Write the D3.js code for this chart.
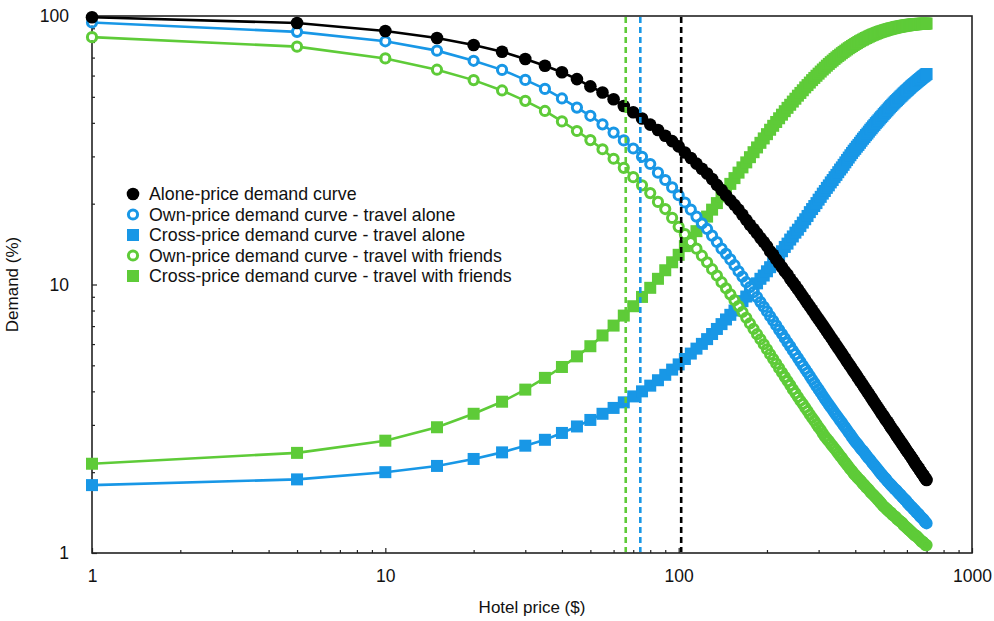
<!DOCTYPE html>
<html>
<head>
<meta charset="utf-8">
<script src="https://cdn.jsdelivr.net/npm/d3@7"></script>
<style>
  body { margin: 0; background: #fff; }
  text { font-family: "Liberation Sans", Arial, Helvetica, sans-serif; fill: #111; }
</style>
</head>
<body>
<svg id="chart" width="994" height="621"></svg>
<script>
// hotel price grid ($)
var prices = [1, 5, 10, 15, 20, 25, 30, 35, 40, 45, 50, 55, 60, 65, 70, 75, 80, 85, 90, 95, 100,
  105, 110, 115, 120, 125, 130, 135, 140, 145, 150, 155, 160, 165, 170, 175, 180, 185, 190, 195,
  200, 205, 210, 215, 220, 225, 230, 235, 240, 245, 250, 255, 260, 265, 270, 275, 280, 285, 290, 295,
  300, 305, 310, 315, 320, 325, 330, 335, 340, 345, 350, 355, 360, 365, 370, 375, 380, 385, 390, 395,
  400, 405, 410, 415, 420, 425, 430, 435, 440, 445, 450, 455, 460, 465, 470, 475, 480, 485, 490, 495,
  500, 505, 510, 515, 520, 525, 530, 535, 540, 545, 550, 555, 560, 565, 570, 575, 580, 585, 590, 595,
  600, 605, 610, 615, 620, 625, 630, 635, 640, 645, 650, 655, 660, 665, 670, 675, 680, 685, 690, 695, 700];

// demand (%), one value per price
var aloneDemand = [98.9, 94.2, 87.9, 82.8, 78.0, 73.6, 69.2, 65.3, 61.7, 58.2, 54.7, 51.9, 49.0, 46.2, 43.8, 41.5, 39.4, 37.6, 35.8, 34.2, 32.7,
  31.0, 29.6, 28.2, 27.0, 25.9, 24.7, 23.5, 22.5, 21.5, 20.6, 19.8, 19.0, 18.2, 17.4, 16.7, 16.1, 15.5, 14.9, 14.4,
  13.9, 13.3, 12.9, 12.4, 12.0, 11.6, 11.2, 10.9, 10.5, 10.2, 9.90, 9.60, 9.31, 9.03, 8.77, 8.52, 8.28, 8.05, 7.83, 7.62,
  7.42, 7.23, 7.05, 6.87, 6.70, 6.53, 6.37, 6.22, 6.07, 5.93, 5.79, 5.66, 5.53, 5.41, 5.29, 5.17, 5.06, 4.96, 4.85, 4.75,
  4.66, 4.56, 4.47, 4.38, 4.30, 4.22, 4.13, 4.06, 3.98, 3.91, 3.84, 3.77, 3.70, 3.63, 3.57, 3.51, 3.45, 3.39, 3.33, 3.28,
  3.23, 3.17, 3.12, 3.08, 3.03, 2.98, 2.93, 2.89, 2.85, 2.81, 2.76, 2.72, 2.68, 2.65, 2.61, 2.57, 2.54, 2.50, 2.47, 2.43,
  2.40, 2.37, 2.34, 2.31, 2.28, 2.25, 2.22, 2.19, 2.16, 2.13, 2.11, 2.08, 2.06, 2.03, 2.01, 1.98, 1.96, 1.94, 1.91, 1.89, 1.87];

var ownAlone = [94.6, 87.3, 80.5, 74.3, 68.1, 63.0, 57.8, 53.5, 49.3, 45.6, 42.5, 39.5, 36.8, 34.4, 32.1, 29.9, 28.1, 26.1, 24.5, 23.0, 21.5,
  20.2, 19.0, 17.9, 16.9, 16.1, 15.2, 14.4, 13.6, 13.0, 12.4, 11.8, 11.2, 10.7, 10.2, 9.78, 9.36, 8.97, 8.60, 8.26,
  7.94, 7.62, 7.33, 7.05, 6.78, 6.54, 6.31, 6.08, 5.88, 5.68, 5.50, 5.32, 5.15, 4.99, 4.84, 4.70, 4.56, 4.43, 4.30, 4.18,
  4.07, 3.96, 3.85, 3.75, 3.66, 3.57, 3.49, 3.41, 3.33, 3.26, 3.19, 3.12, 3.06, 2.99, 2.93, 2.87, 2.81, 2.76, 2.70, 2.65,
  2.60, 2.56, 2.52, 2.47, 2.43, 2.40, 2.36, 2.32, 2.28, 2.25, 2.22, 2.18, 2.15, 2.12, 2.09, 2.06, 2.03, 2.00, 1.97, 1.95,
  1.92, 1.90, 1.88, 1.85, 1.83, 1.81, 1.79, 1.77, 1.75, 1.73, 1.72, 1.70, 1.68, 1.66, 1.65, 1.63, 1.61, 1.60, 1.58, 1.57,
  1.55, 1.53, 1.52, 1.50, 1.49, 1.48, 1.46, 1.45, 1.44, 1.42, 1.41, 1.40, 1.39, 1.37, 1.36, 1.35, 1.34, 1.33, 1.31, 1.30, 1.29];

var crossAlone = [1.79, 1.88, 2.00, 2.11, 2.24, 2.37, 2.51, 2.64, 2.80, 2.96, 3.13, 3.30, 3.47, 3.64, 3.83, 4.00, 4.20, 4.40, 4.61, 4.82, 5.04,
  5.28, 5.53, 5.77, 6.01, 6.26, 6.54, 6.83, 7.12, 7.41, 7.71, 8.00, 8.32, 8.67, 9.02, 9.37, 9.73, 10.1, 10.5, 10.8,
  11.2, 11.6, 12.0, 12.5, 12.9, 13.3, 13.8, 14.2, 14.7, 15.1, 15.6, 16.0, 16.5, 17.0, 17.5, 18.0, 18.6, 19.1, 19.6, 20.1,
  20.7, 21.2, 21.8, 22.3, 22.9, 23.4, 24.0, 24.5, 25.1, 25.6, 26.2, 26.8, 27.3, 27.9, 28.5, 29.1, 29.7, 30.3, 30.9, 31.5,
  32.0, 32.6, 33.1, 33.7, 34.3, 34.9, 35.4, 36.0, 36.5, 37.1, 37.7, 38.2, 38.8, 39.3, 39.9, 40.4, 40.9, 41.5, 42.0, 42.5,
  43.1, 43.6, 44.1, 44.6, 45.2, 45.7, 46.2, 46.7, 47.2, 47.7, 48.2, 48.6, 49.1, 49.6, 50.1, 50.5, 51.0, 51.5, 51.9, 52.4,
  52.8, 53.2, 53.7, 54.1, 54.6, 55.0, 55.4, 55.8, 56.2, 56.6, 57.0, 57.4, 57.8, 58.2, 58.6, 59.0, 59.4, 59.7, 60.1, 60.5, 60.8];

var ownFriends = [83.4, 76.9, 69.5, 63.1, 57.7, 52.8, 48.3, 44.3, 40.5, 37.3, 34.5, 31.9, 29.4, 27.2, 25.1, 23.4, 21.9, 20.3, 19.1, 17.7, 16.4,
  15.4, 14.4, 13.6, 12.8, 12.1, 11.4, 10.8, 10.2, 9.68, 9.19, 8.74, 8.31, 7.90, 7.52, 7.16, 6.83, 6.53, 6.25, 5.99,
  5.74, 5.50, 5.28, 5.08, 4.88, 4.70, 4.53, 4.37, 4.22, 4.07, 3.94, 3.81, 3.69, 3.59, 3.48, 3.38, 3.28, 3.19, 3.11, 3.02,
  2.94, 2.87, 2.79, 2.72, 2.66, 2.61, 2.55, 2.50, 2.45, 2.40, 2.35, 2.30, 2.26, 2.21, 2.17, 2.13, 2.09, 2.05, 2.02, 1.98,
  1.95, 1.92, 1.89, 1.87, 1.84, 1.81, 1.79, 1.76, 1.74, 1.72, 1.69, 1.67, 1.65, 1.63, 1.61, 1.59, 1.57, 1.55, 1.53, 1.51,
  1.49, 1.48, 1.46, 1.45, 1.43, 1.42, 1.41, 1.39, 1.38, 1.37, 1.36, 1.34, 1.33, 1.32, 1.31, 1.30, 1.29, 1.27, 1.26, 1.25,
  1.24, 1.23, 1.22, 1.21, 1.20, 1.19, 1.18, 1.17, 1.16, 1.16, 1.15, 1.14, 1.13, 1.12, 1.11, 1.10, 1.10, 1.09, 1.08, 1.07, 1.07];

var crossFriends = [2.15, 2.36, 2.62, 2.94, 3.30, 3.66, 4.06, 4.49, 4.93, 5.40, 5.89, 6.46, 7.03, 7.66, 8.30, 8.99, 9.72, 10.5, 11.3, 12.1, 12.9,
  13.9, 14.9, 15.8, 16.9, 17.9, 19.0, 20.1, 21.3, 22.5, 23.7, 24.9, 26.1, 27.3, 28.5, 29.8, 31.1, 32.4, 33.7, 35.0,
  36.3, 37.7, 39.0, 40.3, 41.6, 42.9, 44.2, 45.5, 46.7, 48.0, 49.2, 50.5, 51.7, 52.9, 54.2, 55.3, 56.5, 57.7, 58.8, 59.9,
  61.0, 62.1, 63.2, 64.2, 65.3, 66.3, 67.3, 68.2, 69.2, 70.1, 71.0, 71.8, 72.7, 73.5, 74.3, 75.1, 75.9, 76.6, 77.3, 78.0,
  78.7, 79.3, 80.0, 80.6, 81.2, 81.7, 82.3, 82.8, 83.3, 83.8, 84.3, 84.8, 85.2, 85.6, 86.0, 86.4, 86.8, 87.2, 87.5, 87.8,
  88.1, 88.4, 88.7, 89.0, 89.3, 89.5, 89.8, 90.0, 90.2, 90.4, 90.7, 90.9, 91.1, 91.2, 91.4, 91.6, 91.7, 91.9, 92.1, 92.2,
  92.3, 92.4, 92.6, 92.7, 92.8, 92.9, 93.0, 93.1, 93.2, 93.2, 93.3, 93.4, 93.4, 93.5, 93.5, 93.5, 93.6, 93.6, 93.6, 93.7, 93.7];

// revenue maximising prices, drawn as dashed verticals
var optimalPrices = [66, 74, 102];
var optimalColors = ["#5ecb38", "#1897e6", "#000"];

var xTickValues = [1, 10, 100, 1000];
var yTickValues = [1, 10, 100];

var BLUE = "#1897e6", GREEN = "#5ecb38";

var series = [
  {name: "Alone-price demand curve", values: aloneDemand, color: "#000", marker: "disc", z: 4},
  {name: "Own-price demand curve - travel alone", values: ownAlone, color: BLUE, marker: "ring", z: 3},
  {name: "Cross-price demand curve - travel alone", values: crossAlone, color: BLUE, marker: "square", z: 0},
  {name: "Own-price demand curve - travel with friends", values: ownFriends, color: GREEN, marker: "ring", z: 2},
  {name: "Cross-price demand curve - travel with friends", values: crossFriends, color: GREEN, marker: "square", z: 1}
];

var chartW = 994, chartH = 621;
var plotLeft = 92, plotRight = 972, plotTop = 16, plotBottom = 553;

var svg = d3.select("#chart");
svg.append("rect").attr("width", chartW).attr("height", chartH).attr("fill", "#fff");

var x = d3.scaleLog().domain([1, 1000]).range([plotLeft, plotRight]);
var y = d3.scaleLog().domain([1, 100]).range([plotBottom, plotTop]);

// minor ticks, pointing inwards
svg.append("g")
  .attr("transform", "translate(0," + plotBottom + ")")
  .call(d3.axisBottom(x).tickValues(x.ticks().filter(function(t){ return xTickValues.indexOf(t) < 0; }))
    .tickSize(-3).tickFormat(""))
  .call(function(g){ g.select(".domain").remove(); });
svg.append("g")
  .attr("transform", "translate(" + plotLeft + ",0)")
  .call(d3.axisLeft(y).tickValues(y.ticks().filter(function(t){ return yTickValues.indexOf(t) < 0; }))
    .tickSize(-3).tickFormat(""))
  .call(function(g){ g.select(".domain").remove(); });

// major ticks + labels
var xAxis = svg.append("g")
  .attr("transform", "translate(0," + plotBottom + ")")
  .call(d3.axisBottom(x).tickValues(xTickValues).tickSize(-5).tickPadding(17).tickFormat(d3.format("d")));
xAxis.select(".domain").remove();
xAxis.selectAll("text").attr("font-size", 17.5).style("font-family", null);

var yAxis = svg.append("g")
  .attr("transform", "translate(" + plotLeft + ",0)")
  .call(d3.axisLeft(y).tickValues(yTickValues).tickSize(-5).tickPadding(23).tickFormat(d3.format("d")));
yAxis.select(".domain").remove();
yAxis.selectAll("text").attr("font-size", 17.5).style("font-family", null);

svg.selectAll(".tick line").attr("stroke", "#222").attr("stroke-width", 1.2);

// frame
svg.append("rect")
  .attr("x", plotLeft).attr("y", plotTop)
  .attr("width", plotRight - plotLeft).attr("height", plotBottom - plotTop)
  .attr("fill", "none").attr("stroke", "#222").attr("stroke-width", 1.6);

// axis titles
svg.append("text")
  .attr("x", (plotLeft + plotRight) / 2).attr("y", 613)
  .attr("text-anchor", "middle").attr("font-size", 17)
  .text("Hotel price ($)");
svg.append("text")
  .attr("transform", "translate(18," + ((plotTop + plotBottom) / 2) + ") rotate(-90)")
  .attr("text-anchor", "middle").attr("font-size", 17)
  .text("Demand (%)");

var RING_R = 4.6, RING_W = 3;

function drawMarker(sel, type, color) {
  if (type === "disc") {
    sel.append("circle").attr("r", 6.3).attr("fill", color);
  } else if (type === "ring") {
    sel.append("circle").attr("r", RING_R).attr("fill", "#fff")
      .attr("stroke", color).attr("stroke-width", RING_W);
  } else {
    sel.append("rect").attr("x", -6).attr("y", -6).attr("width", 12).attr("height", 12)
      .attr("fill", color);
  }
}

var line = d3.line()
  .x(function(d){ return x(d.p); })
  .y(function(d){ return y(d.v); });

var plot = svg.append("g");
series.slice().sort(function(a, b){ return a.z - b.z; }).forEach(function(s){
  var pts = prices.map(function(p, i){ return {p: p, v: s.values[i]}; });
  var g = plot.append("g");
  g.append("path").datum(pts)
    .attr("d", line).attr("fill", "none")
    .attr("stroke", s.color).attr("stroke-width", 2.6);
  var pos = function(d){ return "translate(" + x(d.p) + "," + y(d.v) + ")"; };
  if (s.marker === "ring") {
    // blank the line inside every ring, then draw the rings on top
    g.append("g").selectAll("circle").data(pts).enter().append("circle")
      .attr("transform", pos).attr("r", RING_R - RING_W / 2).attr("fill", "#fff");
    g.append("g").selectAll("circle").data(pts).enter().append("circle")
      .attr("transform", pos).attr("r", RING_R).attr("fill", "none")
      .attr("stroke", s.color).attr("stroke-width", RING_W);
  } else {
    g.append("g").selectAll("g").data(pts).enter().append("g")
      .attr("transform", pos)
      .each(function(){ drawMarker(d3.select(this), s.marker, s.color); });
  }
});

// dashed optimal-price lines on top
svg.append("g").selectAll("line").data(optimalPrices).enter().append("line")
  .attr("x1", function(d){ return x(d); }).attr("x2", function(d){ return x(d); })
  .attr("y1", plotTop + 1).attr("y2", plotBottom - 1)
  .attr("stroke", function(d, i){ return optimalColors[i]; })
  .attr("stroke-width", 2.6).attr("stroke-dasharray", "6,4");

// legend
var legend = svg.append("g");
series.forEach(function(s, i){
  var row = legend.append("g").attr("transform", "translate(133," + (194 + i * 20.5) + ")");
  drawMarker(row, s.marker, s.color);
  row.append("text").attr("x", 16).attr("dy", "0.35em").attr("font-size", 17.8).text(s.name);
});
</script>
</body>
</html>
